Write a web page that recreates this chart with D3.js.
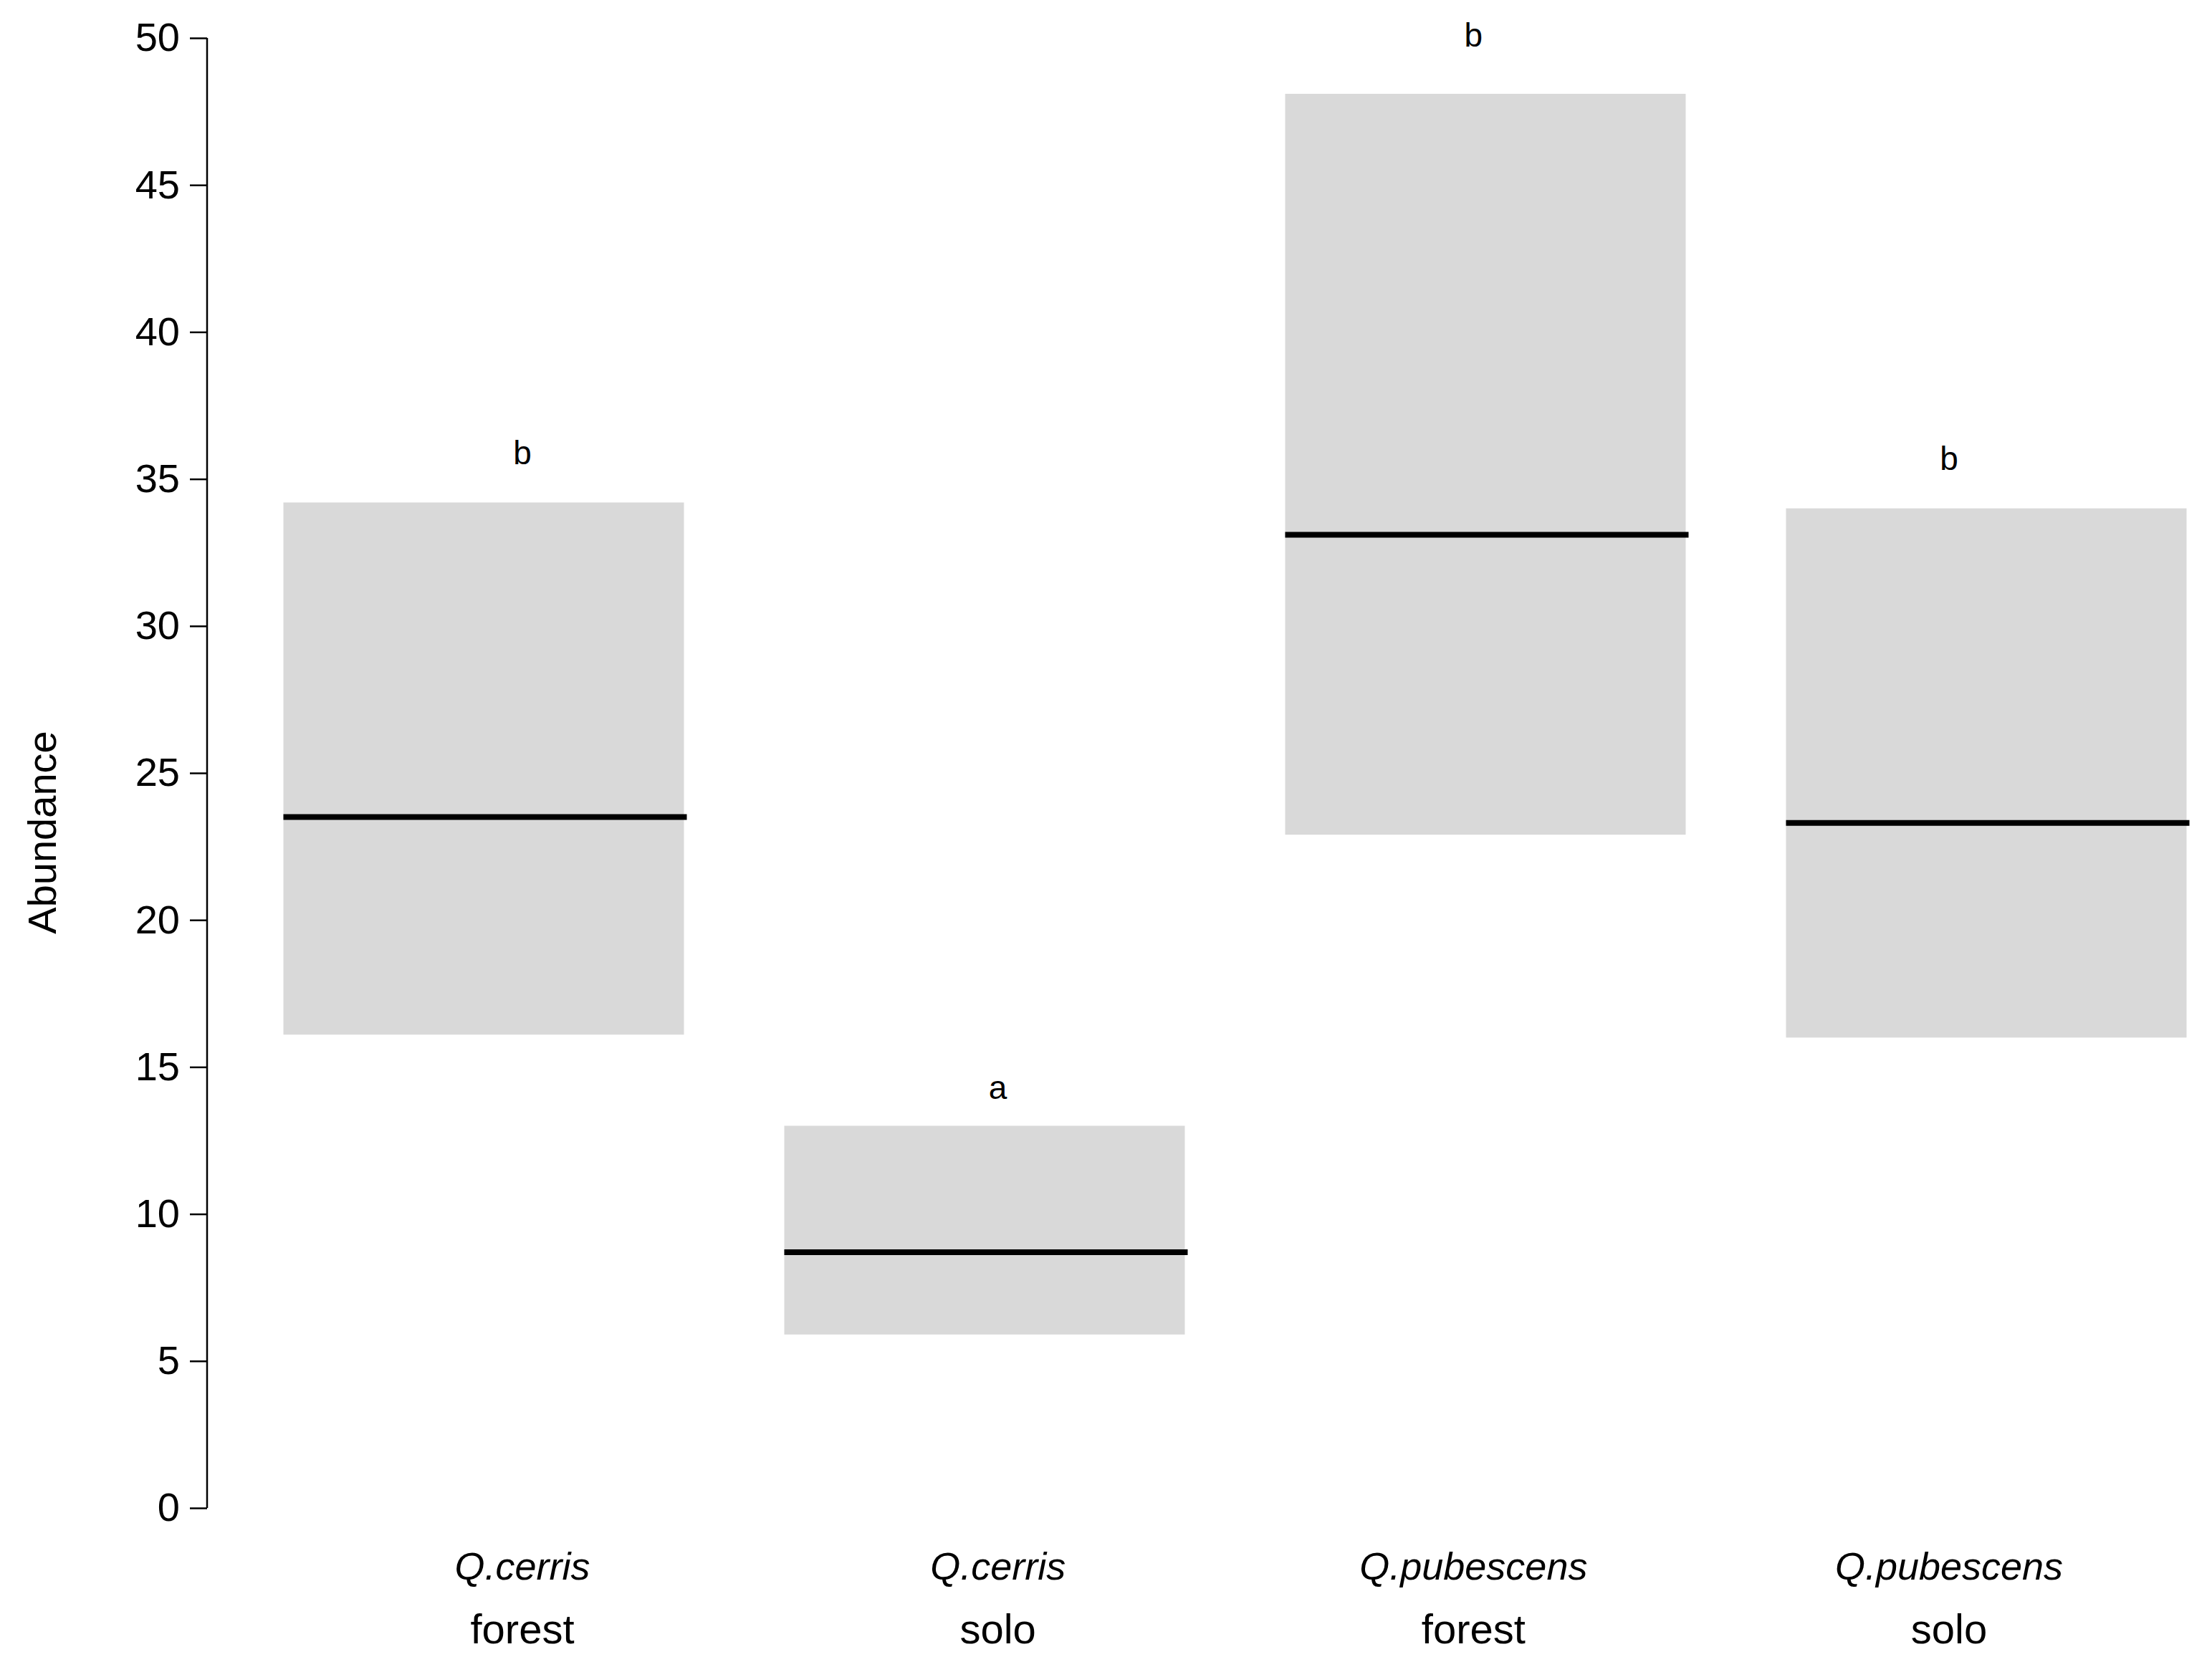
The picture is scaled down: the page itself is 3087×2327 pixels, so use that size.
<!DOCTYPE html>
<html><head><meta charset="utf-8">
<script src="https://cdn.jsdelivr.net/npm/d3@7"></script>
<style>body{margin:0;background:#fff}text{font-family:"Liberation Sans",Arial,sans-serif}</style>
</head><body><svg id="chart" width="3087" height="2327"></svg>
<script>
// data
const species = ["Q.cerris", "Q.cerris", "Q.pubescens", "Q.pubescens"]
const habitat = ["forest", "solo", "forest", "solo"]
const lower = [16.1, 5.9, 22.9, 16.0]
const upper = [34.2, 13.0, 48.1, 34.0]
const median = [23.5, 8.7, 33.1, 23.3]
const letters = ["b", "a", "b", "b"]
const letterY = [35.9, 14.3, 50.1, 35.7]
const yTicks = [0, 5, 10, 15, 20, 25, 30, 35, 40, 45, 50]

const svg = d3.select("#chart")
const y = d3.scaleLinear().domain([0, 50]).range([2105, 53])
// boxes and labels sit on slightly different spacings in the original
const xBox = d3.scaleLinear().domain([0, 3]).range([675, 2772])
const xLab = d3.scaleLinear().domain([0, 3]).range([729, 2720])
const boxW = 559

const idx = d3.range(species.length)

svg.selectAll("rect.box").data(idx).join("rect")
    .attr("class", "box")
    .attr("x", i => xBox(i) - boxW / 2)
    .attr("width", boxW)
    .attr("y", i => y(upper[i]))
    .attr("height", i => y(lower[i]) - y(upper[i]))
    .attr("fill", "#d9d9d9")

svg.selectAll("line.med").data(idx).join("line")
    .attr("x1", i => xBox(i) - boxW / 2)
    .attr("x2", i => xBox(i) + boxW / 2 + 4)
    .attr("y1", i => y(median[i]))
    .attr("y2", i => y(median[i]))
    .attr("stroke", "#000").attr("stroke-width", 8)

svg.selectAll("text.let").data(idx).join("text")
    .attr("x", i => xLab(i))
    .attr("y", i => y(letterY[i]))
    .attr("dy", "0.35em")
    .attr("text-anchor", "middle")
    .attr("font-size", 46)
    .text(i => letters[i])

// y axis
const yAxis = svg.append("g")
    .attr("transform", "translate(289,0)")
    .call(d3.axisLeft(y).tickValues(yTicks).tickSize(24).tickPadding(14))
yAxis.select(".domain").attr("d", `M0,${y(0)}V${y(50)}`).attr("stroke-width", 2.5)
yAxis.selectAll(".tick line").attr("stroke-width", 2.5)
yAxis.selectAll("text").attr("font-size", 56).attr("font-family", "Liberation Sans, Arial, sans-serif")

// category labels
svg.selectAll("text.sp").data(idx).join("text")
    .attr("x", i => xLab(i)).attr("y", 2205)
    .attr("text-anchor", "middle").attr("font-size", 54).attr("font-style", "italic")
    .text(i => species[i])
svg.selectAll("text.hab").data(idx).join("text")
    .attr("x", i => xLab(i)).attr("y", 2294)
    .attr("text-anchor", "middle").attr("font-size", 58)
    .text(i => habitat[i])

svg.append("text")
    .attr("transform", "translate(78,1162) rotate(-90)")
    .attr("text-anchor", "middle").attr("font-size", 56)
    .text("Abundance")
</script></body></html>
